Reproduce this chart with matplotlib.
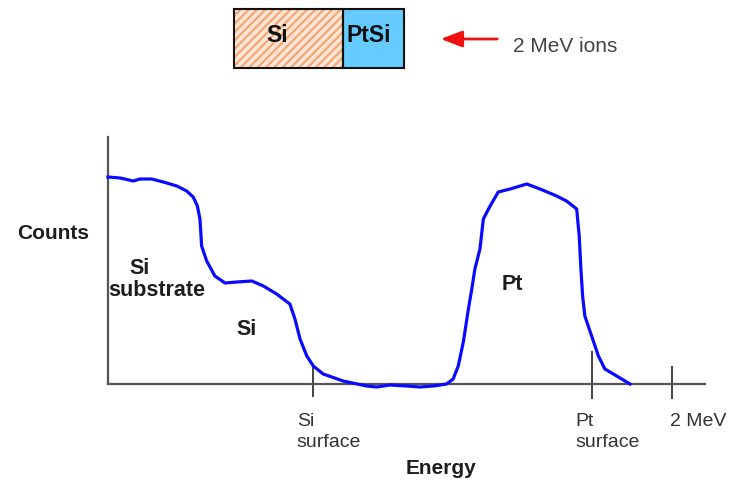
import numpy as np
import matplotlib.pyplot as plt

# RBS spectrum (energy in MeV, counts in arbitrary units)
energy = [0.0, 0.043, 0.090, 0.113, 0.155, 0.196, 0.244, 0.279, 0.302, 0.317,
          0.326, 0.329, 0.332, 0.350, 0.379, 0.415, 0.456, 0.510, 0.551, 0.598,
          0.645, 0.663, 0.681, 0.705, 0.728, 0.763, 0.834, 0.917, 0.953, 1.000,
          1.059, 1.106, 1.154, 1.201, 1.224, 1.242, 1.260, 1.278, 1.290, 1.301,
          1.319, 1.331, 1.355, 1.384, 1.426, 1.485, 1.532, 1.591, 1.626, 1.662,
          1.671, 1.677, 1.683, 1.691, 1.715, 1.739, 1.762, 1.804, 1.851]
counts = [207, 206, 203, 205, 205, 202, 198, 193, 187, 178,
          165, 152, 138, 123, 108, 101, 102, 103, 98, 90,
          80, 65, 45, 28, 18, 10, 3, -2, -3, -1,
          -2, -3, -2, 0, 5, 18, 42, 75, 95, 115,
          135, 165, 178, 192, 195, 200, 195, 188, 183, 175,
          148, 115, 88, 68, 48, 28, 15, 8, 0]

tick_energy = [0.727, 1.716, 2.0]
tick_top = [18, 33, 18]
tick_labels = ['Si\nsurface', 'Pt\nsurface', '2 MeV']

layers = ['Si', 'PtSi']
layer_width = [109, 61]

W, H = 739, 481
fig = plt.figure(figsize=(W / 100, H / 100), dpi=100)
plt.rcParams['font.family'] = ['Liberation Sans', 'DejaVu Sans']

axis_col = '#555555'
text_col = '#333333'
dark = '#1e1e1e'

# main spectrum axes
ax = fig.add_axes([108 / W, (H - 385) / H, (705 - 108) / W, (385 - 138) / H])
ax.set_xlim(0, (705 - 108) / 282)
ax.set_ylim(0, 247)
ax.plot(energy, counts, color='#0a0aff', lw=2.3, clip_on=False, zorder=3)
for s in ['top', 'right']:
    ax.spines[s].set_visible(False)
for s in ['left', 'bottom']:
    ax.spines[s].set_color(axis_col)
    ax.spines[s].set_linewidth(1.6)
ax.set_xticks([])
ax.set_yticks([])

ax.vlines(tick_energy, [-13, -15, -15], tick_top, color='#222222', lw=1.2, clip_on=False)
for e, lab in zip(tick_energy, tick_labels):
    ax.text(e - 0.058 if 'surface' in lab else e - 0.008, -28, lab, ha='left', va='top',
            fontsize=14, color=text_col, linespacing=1.3)

ax.text(-0.195, 151, 'Counts', ha='center', va='center', fontsize=15, fontweight='bold', color=dark)
ax.text(1.181, -84, 'Energy', ha='center', va='center', fontsize=15, fontweight='bold', color=dark)
ax.text(0.113, 117, 'Si', ha='center', va='center', fontsize=15.5, fontweight='bold', color=dark)
ax.text(0.174, 94, 'substrate', ha='center', va='center', fontsize=15.5, fontweight='bold', color=dark)
ax.text(0.493, 55, 'Si', ha='center', va='center', fontsize=15.5, fontweight='bold', color=dark)
ax.text(1.433, 100, 'Pt', ha='center', va='center', fontsize=15.5, fontweight='bold', color=dark)

# sample sketch on top
ax2 = fig.add_axes([234 / W, (H - 69) / H, 170 / W, 59 / H])
ax2.set_xlim(0, sum(layer_width))
ax2.set_ylim(0, 1)
ax2.axis('off')
plt.rcParams['hatch.linewidth'] = 1.6
left = np.cumsum([0] + layer_width[:-1])
ax2.barh(0.5, layer_width[0], left=left[0], height=1, color='#fde6d6',
         edgecolor='#f4a675', hatch='////', lw=0)
ax2.barh(0.5, layer_width[1], left=left[1], height=1, color='#66ccff', lw=0)
ax2.barh(0.5, layer_width, left=left, height=1, fill=False, edgecolor='#111111', lw=1.5,
         clip_on=False)
for name, l, w, shift in zip(layers, left, layer_width, [-11, -5]):
    ax2.text(l + w / 2 + shift, 0.57, name, ha='center', va='center', fontsize=16.5,
             fontweight='bold', color='#111111')

ax2.annotate('', xy=(438 / W, (H - 40) / H), xytext=(500 / W, (H - 40) / H),
             xycoords='figure fraction', textcoords='figure fraction',
             arrowprops=dict(arrowstyle='-|>,head_length=1.3,head_width=0.5',
                             color='#ee1111', lw=2))
fig.text(513 / W, (H - 47) / H, '2 MeV ions', ha='left', va='center', fontsize=15,
         color='#444444')

fig.savefig('out.png', dpi=100)
